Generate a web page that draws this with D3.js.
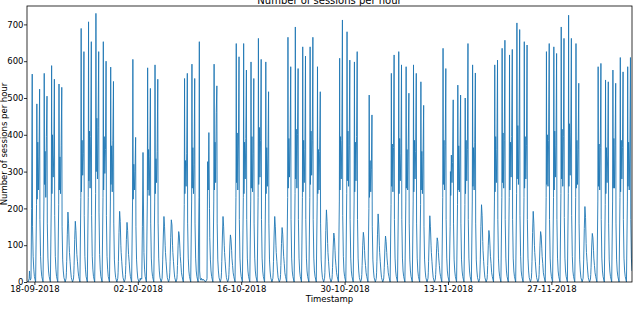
<!DOCTYPE html>
<html lang="en">

<head>
    <meta charset="UTF-8">
    <title>Number of sessions per hour</title>
    <script src="https://d3js.org/d3.v7.min.js"></script>
    <style>
        body {
            margin: 0;
            background: #ffffff;
        }

        svg {
            display: block;
        }

        text {
            font-family: "DejaVu Sans", sans-serif;
            fill: #000;
        }
    </style>
</head>

<body>
    <svg width="633" height="309"></svg>

    <script>
        // first day of the series, readings taken at these hours of each day
        const startDay = "17-09-2018";
        const readHours = [0, 4, 7, 8, 9, 11, 13, 15, 17, 18, 20, 22];

        // one row per day (17-09-2018 ... 07-12-2018), sessions at readHours
        const dayValues = [
            [0, 0, 10, 30, 15, 5, 10, 200, 565, 150, 70, 35],       // Mon 17-09
            [15, 0, 210, 484, 225, 380, 250, 340, 524, 170, 70, 35],
            [15, 0, 220, 567, 265, 355, 230, 395, 505, 160, 65, 30],
            [15, 0, 220, 588, 240, 400, 285, 345, 551, 180, 70, 35],
            [15, 0, 210, 538, 250, 340, 240, 370, 529, 150, 60, 30],
            [12, 0, 10, 25, 55, 130, 190, 160, 100, 80, 55, 30],
            [12, 0, 8, 20, 45, 115, 165, 140, 95, 75, 55, 30],
            [15, 0, 230, 689, 245, 385, 290, 350, 626, 180, 70, 35], // Mon 24-09
            [15, 0, 230, 707, 275, 410, 255, 395, 653, 180, 70, 35],
            [15, 0, 240, 730, 300, 445, 280, 420, 626, 190, 75, 35],
            [15, 0, 230, 653, 250, 395, 295, 360, 600, 180, 70, 35],
            [15, 0, 220, 584, 265, 370, 245, 385, 545, 160, 60, 30],
            [12, 0, 10, 25, 55, 135, 192, 165, 100, 80, 55, 30],
            [12, 0, 8, 20, 45, 115, 162, 140, 95, 75, 55, 30],
            [15, 0, 220, 605, 225, 320, 250, 300, 393, 150, 60, 30], // Mon 01-10
            [10, 0, 5, 10, 5, 10, 8, 150, 352, 250, 80, 35],
            [15, 0, 220, 582, 250, 360, 235, 340, 526, 160, 65, 30],
            [15, 0, 220, 590, 240, 335, 270, 355, 551, 160, 65, 30],
            [12, 0, 10, 30, 60, 125, 178, 150, 100, 80, 55, 30],
            [12, 0, 10, 25, 55, 120, 169, 155, 100, 80, 55, 30],
            [12, 0, 8, 20, 45, 100, 137, 125, 90, 70, 50, 25],
            [15, 0, 210, 553, 240, 330, 260, 350, 567, 160, 65, 30], // Mon 08-10
            [15, 0, 220, 592, 255, 365, 240, 320, 553, 160, 65, 30],
            [15, 0, 230, 653, 30, 8, 5, 10, 5, 5, 8, 5],
            [5, 0, 5, 5, 10, 327, 250, 406, 200, 120, 60, 30],
            [15, 0, 220, 592, 250, 380, 270, 460, 533, 160, 60, 30],
            [12, 0, 10, 25, 55, 125, 178, 150, 100, 80, 55, 30],
            [12, 0, 8, 20, 40, 95, 128, 115, 85, 65, 45, 25],
            [15, 0, 230, 648, 270, 405, 250, 375, 612, 170, 65, 30], // Mon 15-10
            [15, 0, 230, 648, 240, 380, 280, 390, 576, 170, 65, 30],
            [15, 0, 220, 598, 255, 395, 245, 350, 553, 160, 65, 30],
            [15, 0, 230, 662, 265, 420, 285, 385, 605, 170, 65, 30],
            [15, 0, 220, 598, 240, 365, 260, 345, 517, 160, 60, 30],
            [12, 0, 10, 25, 55, 125, 178, 150, 100, 80, 55, 30],
            [12, 0, 8, 20, 45, 105, 148, 130, 90, 70, 50, 25],
            [15, 0, 230, 665, 255, 390, 285, 375, 585, 170, 65, 30], // Mon 22-10
            [15, 0, 240, 693, 280, 415, 255, 400, 580, 170, 65, 30],
            [15, 0, 230, 639, 245, 385, 270, 360, 614, 170, 65, 30],
            [15, 0, 230, 639, 265, 410, 290, 385, 665, 170, 65, 30],
            [15, 0, 220, 585, 240, 360, 250, 355, 517, 160, 60, 30],
            [12, 0, 10, 25, 60, 140, 196, 165, 105, 80, 55, 30],
            [12, 0, 8, 20, 40, 95, 133, 120, 85, 65, 45, 25],
            [15, 0, 220, 608, 250, 395, 280, 385, 712, 180, 70, 30], // Mon 29-10
            [15, 0, 240, 680, 275, 410, 260, 370, 603, 170, 65, 30],
            [15, 0, 220, 598, 245, 380, 275, 395, 626, 170, 65, 30],
            [12, 0, 8, 20, 45, 100, 135, 120, 85, 65, 45, 25],
            [15, 0, 200, 508, 230, 330, 245, 305, 454, 150, 60, 30],
            [12, 0, 10, 25, 55, 130, 185, 155, 100, 80, 55, 30],
            [12, 0, 8, 20, 40, 90, 125, 110, 80, 65, 45, 25],
            [15, 0, 210, 567, 260, 375, 245, 365, 617, 170, 65, 30], // Mon 05-11
            [15, 0, 220, 626, 240, 390, 275, 350, 590, 170, 65, 30],
            [15, 0, 220, 585, 255, 360, 250, 375, 513, 160, 60, 30],
            [15, 0, 220, 590, 245, 385, 280, 355, 567, 160, 65, 30],
            [15, 0, 210, 544, 250, 355, 240, 340, 480, 150, 60, 30],
            [12, 0, 10, 25, 55, 125, 180, 150, 100, 80, 55, 30],
            [12, 0, 8, 20, 40, 90, 120, 110, 80, 65, 45, 25],
            [15, 0, 230, 635, 265, 385, 250, 370, 580, 170, 65, 30], // Mon 12-11
            [15, 0, 150, 300, 235, 345, 270, 325, 495, 160, 60, 30],
            [15, 0, 210, 535, 250, 370, 245, 345, 508, 160, 60, 30],
            [15, 0, 210, 500, 240, 385, 275, 360, 648, 170, 65, 30],
            [15, 0, 220, 590, 260, 365, 250, 380, 568, 160, 60, 30],
            [12, 0, 10, 30, 60, 150, 210, 180, 110, 85, 55, 30],
            [12, 0, 8, 20, 45, 100, 140, 125, 90, 70, 50, 25],
            [15, 0, 220, 590, 245, 395, 270, 360, 603, 170, 65, 30], // Mon 19-11
            [15, 0, 230, 635, 270, 405, 255, 385, 657, 170, 65, 30],
            [15, 0, 230, 617, 250, 380, 285, 395, 632, 170, 65, 30],
            [15, 0, 240, 704, 280, 425, 265, 405, 686, 180, 70, 30],
            [15, 0, 230, 653, 255, 395, 280, 370, 644, 170, 65, 30],
            [12, 0, 10, 25, 55, 135, 192, 160, 100, 80, 55, 30],
            [12, 0, 8, 20, 45, 100, 137, 125, 90, 70, 50, 25],
            [15, 0, 230, 626, 265, 400, 260, 385, 648, 170, 65, 30], // Mon 26-11
            [15, 0, 230, 639, 250, 410, 285, 370, 621, 170, 65, 30],
            [15, 0, 240, 693, 280, 415, 260, 395, 662, 175, 65, 30],
            [15, 0, 240, 725, 260, 430, 290, 405, 662, 180, 70, 30],
            [15, 0, 230, 648, 255, 385, 265, 360, 540, 160, 60, 30],
            [12, 0, 10, 30, 60, 145, 205, 175, 105, 80, 55, 30],
            [12, 0, 8, 20, 40, 95, 132, 120, 85, 65, 45, 25],
            [15, 0, 220, 585, 260, 375, 250, 365, 594, 170, 65, 30], // Mon 03-12
            [15, 0, 210, 549, 240, 365, 270, 345, 544, 160, 60, 30],
            [15, 0, 220, 576, 255, 390, 255, 370, 540, 160, 60, 30],
            [15, 0, 230, 610, 245, 385, 280, 365, 571, 170, 65, 30],
            [15, 0, 220, 585, 260, 380, 250, 375, 610, 170, 65, 30]
        ];

        const yTicks = [0, 100, 200, 300, 400, 500, 600, 700];
        const xTickLabels = ["18-09-2018", "02-10-2018", "16-10-2018", "30-10-2018", "13-11-2018", "27-11-2018"];

        const width = 633;
        const height = 309;
        const margin = { top: 6, right: 1, bottom: 27, left: 27 };

        const parseDay = d3.timeParse("%d-%m-%Y");
        const fmtDay = d3.timeFormat("%d-%m-%Y");
        const day0 = parseDay(startDay);

        // flatten the table into (time, sessions) points
        const points = [];
        dayValues.forEach((row, i) => {
            row.forEach((v, j) => {
                const t = d3.timeHour.offset(d3.timeDay.offset(day0, i), readHours[j]);
                points.push({ t: t, v: v });
            });
        });

        const svg = d3.select("svg");

        const x = d3.scaleTime()
            .domain(d3.extent(points, d => d.t))
            .range([margin.left, width - margin.right]);

        const y = d3.scaleLinear()
            .domain([0, 750])
            .range([height - margin.bottom, margin.top]);

        // line
        svg.append("clipPath").attr("id", "plot")
            .append("rect")
            .attr("x", margin.left).attr("y", margin.top)
            .attr("width", width - margin.left - margin.right)
            .attr("height", height - margin.top - margin.bottom);

        svg.append("path")
            .datum(points)
            .attr("clip-path", "url(#plot)")
            .attr("fill", "none")
            .attr("stroke", "#1f77b4")
            .attr("stroke-width", 0.9)
            .attr("stroke-linejoin", "round")
            .attr("d", d3.line().x(d => x(d.t)).y(d => y(d.v)));

        // axes
        const xAxis = svg.append("g")
            .attr("transform", `translate(0,${height - margin.bottom})`)
            .call(d3.axisBottom(x)
                .tickValues(xTickLabels.map(parseDay))
                .tickFormat(fmtDay)
                .tickSize(3)
                .tickPadding(0.5));

        const yAxis = svg.append("g")
            .attr("transform", `translate(${margin.left},0)`)
            .call(d3.axisLeft(y)
                .tickValues(yTicks)
                .tickSize(3)
                .tickPadding(0.5));

        [xAxis, yAxis].forEach(g => {
            g.select(".domain").remove();
            g.selectAll("line").attr("stroke", "#000").attr("stroke-width", 0.8);
            g.selectAll("text").attr("font-size", 8.5).attr("font-family", "DejaVu Sans");
        });

        // frame
        svg.append("rect")
            .attr("x", margin.left).attr("y", margin.top)
            .attr("width", width - margin.left - margin.right)
            .attr("height", height - margin.top - margin.bottom)
            .attr("fill", "none")
            .attr("stroke", "#000")
            .attr("stroke-width", 0.8);

        // labels
        svg.append("text")
            .attr("x", (margin.left + width - margin.right) / 2)
            .attr("y", 4)
            .attr("text-anchor", "middle")
            .attr("font-size", 10)
            .text("Number of sessions per hour");

        svg.append("text")
            .attr("x", (margin.left + width - margin.right) / 2)
            .attr("y", 302)
            .attr("text-anchor", "middle")
            .attr("font-size", 8.5)
            .text("Timestamp");

        svg.append("text")
            .attr("transform", `translate(7,${(margin.top + height - margin.bottom) / 2}) rotate(-90)`)
            .attr("text-anchor", "middle")
            .attr("font-size", 8.5)
            .text("Number of sessions per hour");
    </script>
</body>

</html>
